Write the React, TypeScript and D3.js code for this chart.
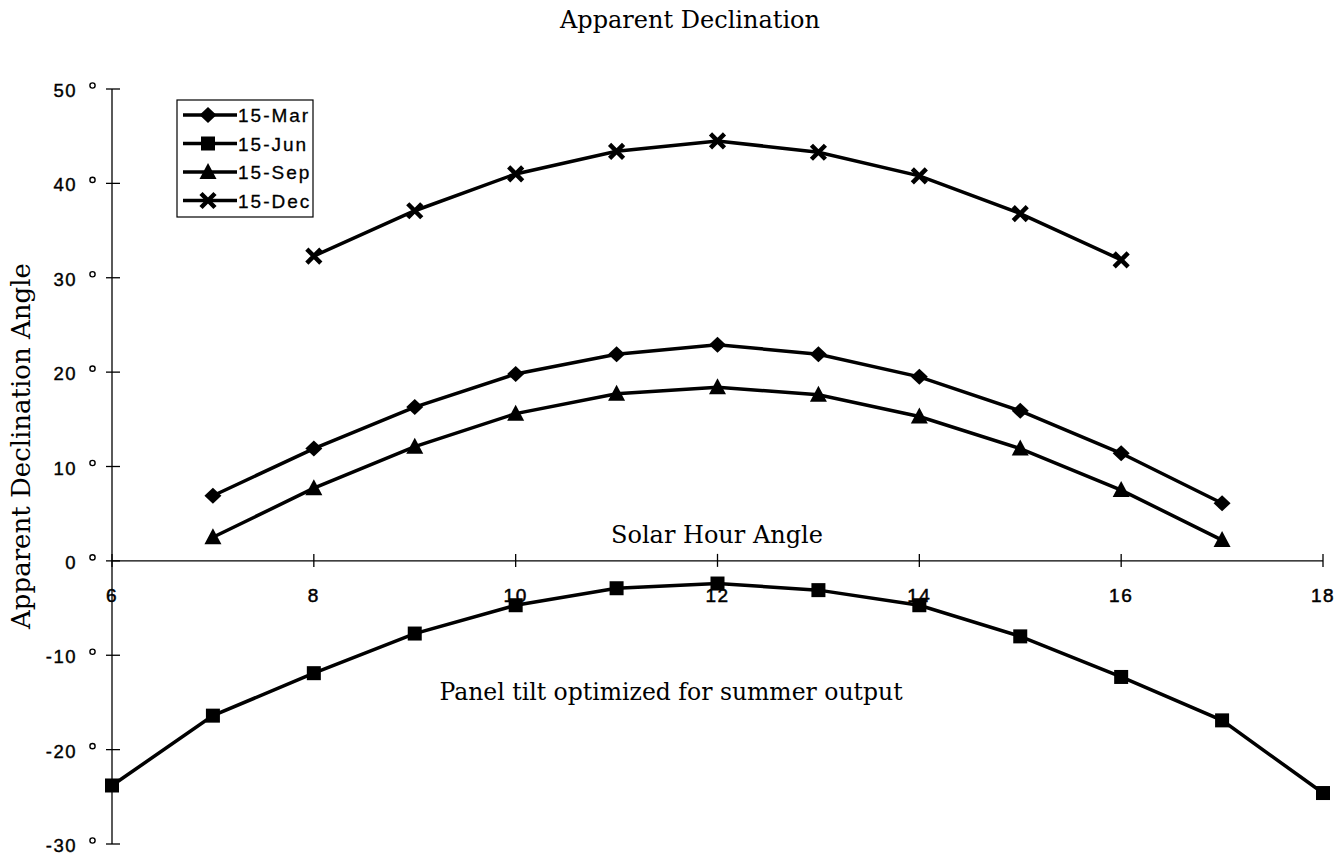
import React from 'react';
import * as d3 from 'd3';

const hoursMar = [7, 8, 9, 10, 11, 12, 13, 14, 15, 16, 17];
const valuesMar = [6.9, 11.9, 16.3, 19.8, 21.9, 22.9, 21.9, 19.5, 15.9, 11.4, 6.1];

const hoursJun = [6, 7, 8, 9, 10, 11, 12, 13, 14, 15, 16, 17, 18];
const valuesJun = [-23.8, -16.4, -11.9, -7.7, -4.7, -2.9, -2.4, -3.1, -4.7, -8.0, -12.3, -16.9, -24.6];

const hoursSep = [7, 8, 9, 10, 11, 12, 13, 14, 15, 16, 17];
const valuesSep = [2.5, 7.7, 12.1, 15.6, 17.7, 18.4, 17.6, 15.3, 11.9, 7.5, 2.2];

const hoursDec = [8, 9, 10, 11, 12, 13, 14, 15, 16];
const valuesDec = [32.3, 37.1, 41.0, 43.4, 44.5, 43.3, 40.8, 36.8, 31.9];

const seriesNames = ['15-Mar', '15-Jun', '15-Sep', '15-Dec'];
const markerKinds = ['diamond', 'square', 'triangle', 'cross'];

const xTicks = [6, 8, 10, 12, 14, 16, 18];
const yTicks = [50, 40, 30, 20, 10, 0, -10, -20, -30];

const width = 1337;
const height = 857;
const serif = '"DejaVu Serif", "Liberation Serif", serif';
const sans = '"Liberation Sans", Arial, sans-serif';

function Marker({ kind, x, y }: { kind: string; x: number; y: number }) {
  if (kind === 'diamond') {
    return <path d={`M${x},${y - 8} L${x + 8.5},${y} L${x},${y + 8} L${x - 8.5},${y} Z`} fill="#000" />;
  }
  if (kind === 'square') {
    return <rect x={x - 7} y={y - 7} width={14} height={14} fill="#000" />;
  }
  if (kind === 'triangle') {
    return <path d={`M${x},${y - 9} L${x + 8.5},${y + 7} L${x - 8.5},${y + 7} Z`} fill="#000" />;
  }
  return (
    <path
      d={`M${x - 7},${y - 7} L${x + 7},${y + 7} M${x - 7},${y + 7} L${x + 7},${y - 7}`}
      stroke="#000"
      strokeWidth={4.5}
    />
  );
}

export default function App() {
  const x = d3.scaleLinear().domain([6, 18]).range([112, 1323]);
  const y = d3.scaleLinear().domain([-30, 50]).range([844, 89]);

  const series = [
    { hours: hoursMar, values: valuesMar },
    { hours: hoursJun, values: valuesJun },
    { hours: hoursSep, values: valuesSep },
    { hours: hoursDec, values: valuesDec },
  ];

  const line = d3
    .line<[number, number]>()
    .x((d) => x(d[0]))
    .y((d) => y(d[1]));

  const legendX = 177;
  const legendY = 100;

  return (
    <svg
      width={width}
      height={height}
      style={{ position: 'absolute', left: 0, top: 0, background: '#fff' }}
    >
      <text x={690} y={28} textAnchor="middle" fontFamily={serif} fontSize={24} fill="#000">
        Apparent Declination
      </text>

      {/* y axis */}
      <line x1={x(6)} x2={x(6)} y1={y(50)} y2={y(-30)} stroke="#000" strokeWidth={1.3} />
      {yTicks.map((t) => (
        <g key={t}>
          <line x1={x(6) - 6} x2={x(6) + 8} y1={y(t)} y2={y(t)} stroke="#000" strokeWidth={1.3} />
          <text
            x={77}
            y={y(t) + 8}
            textAnchor="end"
            fontFamily={sans}
            fontSize={18.5}
            letterSpacing={1.5}
            stroke="#000"
            strokeWidth={0.4}
            fill="#000"
          >
            {t}
          </text>
          <circle cx={92.5} cy={y(t) - 3.5} r={2.6} fill="none" stroke="#000" strokeWidth={1.4} />
        </g>
      ))}

      {/* x axis */}
      <line x1={x(6)} x2={x(18)} y1={y(0)} y2={y(0)} stroke="#000" strokeWidth={1.3} />
      {xTicks.map((t) => (
        <g key={t}>
          <line x1={x(t)} x2={x(t)} y1={y(0) - 7} y2={y(0) + 6} stroke="#000" strokeWidth={1.3} />
          <text
            x={x(t)}
            y={y(0) + 41}
            textAnchor="middle"
            fontFamily={sans}
            fontSize={19}
            letterSpacing={1.5}
            stroke="#000"
            strokeWidth={0.5}
            fill="#000"
          >
            {t}
          </text>
        </g>
      ))}

      <text x={717} y={543} textAnchor="middle" fontFamily={serif} fontSize={24} fill="#000">
        Solar Hour Angle
      </text>
      <text x={671} y={700} textAnchor="middle" fontFamily={serif} fontSize={23.5} fill="#000">
        Panel tilt optimized for summer output
      </text>
      <text
        transform={`translate(30,${446}) rotate(-90)`}
        textAnchor="middle"
        fontFamily={serif}
        fontSize={26}
        fill="#000"
      >
        Apparent Declination Angle
      </text>

      {series.map((s, i) => {
        const pts = s.hours.map((h, j) => [h, s.values[j]] as [number, number]);
        return (
          <g key={seriesNames[i]}>
            <path d={line(pts) || ''} fill="none" stroke="#000" strokeWidth={3.5} />
            {pts.map((p, j) => (
              <Marker key={j} kind={markerKinds[i]} x={x(p[0])} y={y(p[1])} />
            ))}
          </g>
        );
      })}

      {/* legend */}
      <rect x={legendX} y={legendY} width={136} height={117} fill="#fff" stroke="#000" strokeWidth={1.2} />
      {seriesNames.map((name, i) => {
        const cy = legendY + 15 + i * 28.5;
        return (
          <g key={name}>
            <line x1={legendX + 6} x2={legendX + 60} y1={cy} y2={cy} stroke="#000" strokeWidth={3.5} />
            <Marker kind={markerKinds[i]} x={legendX + 31} y={cy} />
            <text
              x={legendX + 61}
              y={cy + 7}
              fontFamily={sans}
              fontSize={19}
              letterSpacing={2}
              stroke="#000"
              strokeWidth={0.3}
              fill="#000"
            >
              {name}
            </text>
          </g>
        );
      })}
    </svg>
  );
}
